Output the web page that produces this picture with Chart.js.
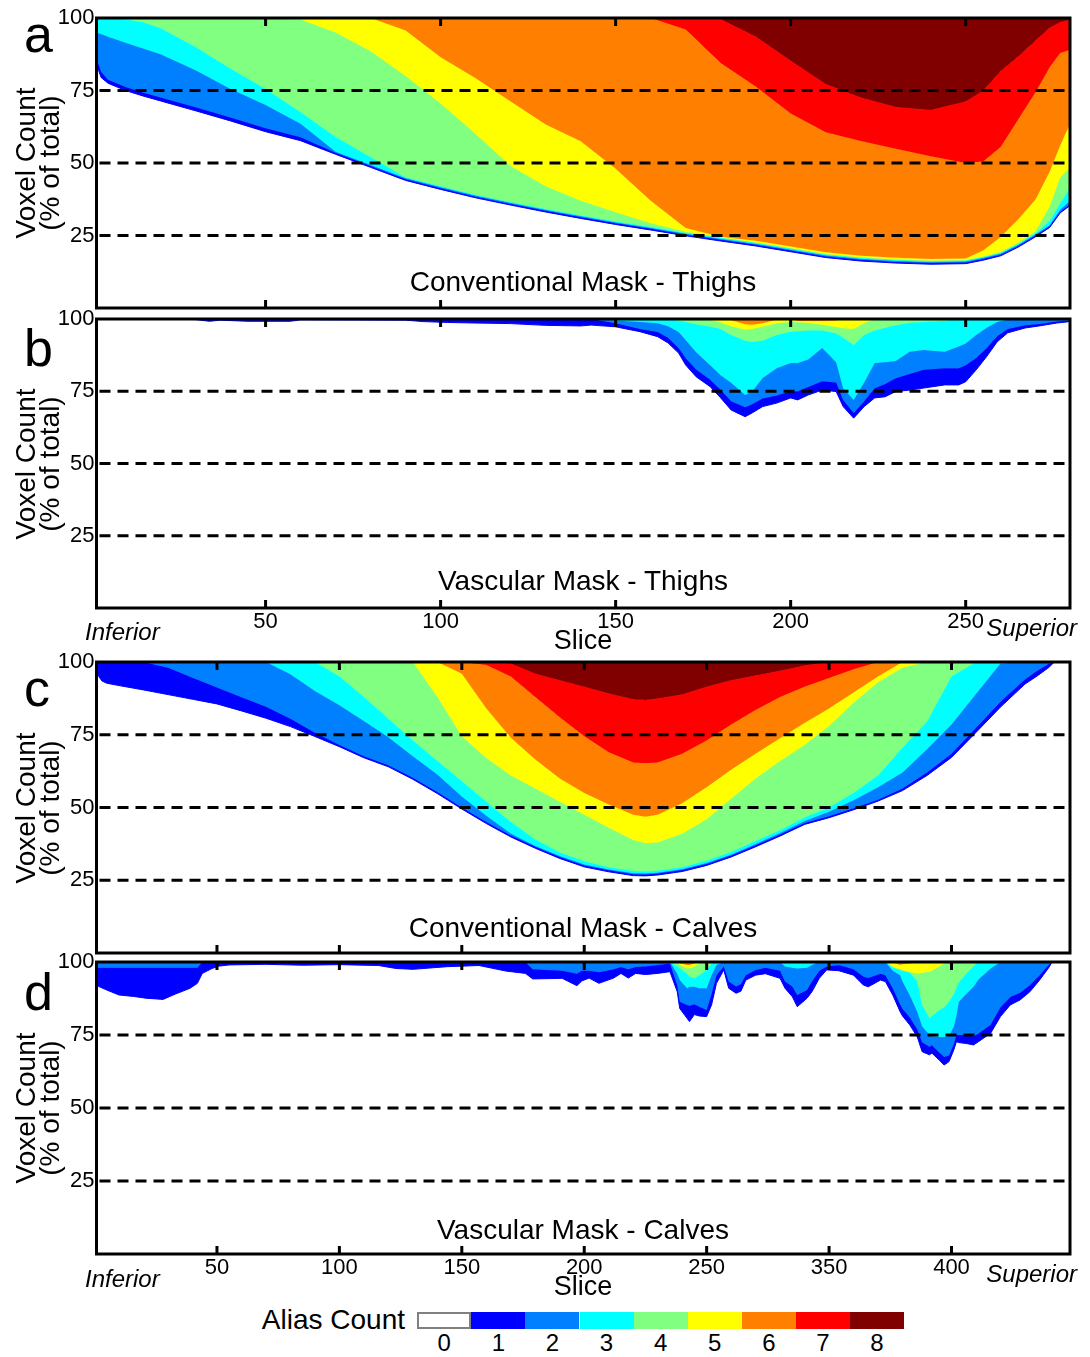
<!DOCTYPE html>
<html><head><meta charset="utf-8">
<script src="https://cdn.jsdelivr.net/npm/chart.js@4.4.1/dist/chart.umd.min.js"></script>
<style>
html,body{margin:0;padding:0;background:#fff;}
body{width:1090px;height:1357px;position:relative;overflow:hidden;font-family:"Liberation Sans",Arial,sans-serif;color:#000;}
canvas{position:absolute;left:0;}
.t{position:absolute;white-space:nowrap;line-height:1;}
.lt{font-size:52px;}
.ttl{font-size:28px;width:974px;left:96px;text-align:center;}
.yt{position:absolute;left:-62px;width:200px;height:48px;font-size:28px;line-height:24px;text-align:center;transform:rotate(-90deg);white-space:nowrap;}
.it{font-style:italic;font-size:24px;}
.sl{font-size:27px;width:200px;left:483px;text-align:center;}
</style></head><body>
<canvas id="ca" width="1090" height="340" style="top:0px"></canvas>
<canvas id="cb" width="1090" height="340" style="top:301px"></canvas>
<canvas id="cc" width="1090" height="340" style="top:644px"></canvas>
<canvas id="cd" width="1090" height="340" style="top:944px"></canvas>

<div class="t lt" style="left:24px;top:8px">a</div>
<div class="t lt" style="left:24px;top:322px">b</div>
<div class="t lt" style="left:24px;top:662px">c</div>
<div class="t lt" style="left:24px;top:966px">d</div>

<div class="yt" style="top:139px">Voxel Count<br>(% of total)</div>
<div class="yt" style="top:440px">Voxel Count<br>(% of total)</div>
<div class="yt" style="top:784px">Voxel Count<br>(% of total)</div>
<div class="yt" style="top:1084px">Voxel Count<br>(% of total)</div>

<div class="t ttl" style="top:268px">Conventional Mask - Thighs</div>
<div class="t ttl" style="top:567px">Vascular Mask - Thighs</div>
<div class="t ttl" style="top:914px">Conventional Mask - Calves</div>
<div class="t ttl" style="top:1216px">Vascular Mask - Calves</div>

<div class="t it" style="left:85px;top:620px">Inferior</div>
<div class="t it" style="right:13px;top:616px">Superior</div>
<div class="t sl" style="top:627px">Slice</div>
<div class="t it" style="left:85px;top:1267px">Inferior</div>
<div class="t it" style="right:13px;top:1262px">Superior</div>
<div class="t sl" style="top:1273px">Slice</div>

<div class="t" style="font-size:28px;right:685px;top:1306px">Alias Count</div>
<div id="cbar"></div>

<script>
// ---------- shared ----------
const COLORS = ['#ffffff','#0000ff','#0080ff','#00ffff','#80ff80','#ffff00','#ff8000','#ff0000','#800000'];
const ALIAS_LEVELS = ['0','1','2','3','4','5','6','7','8'];
const Y_TICKS = [25, 50, 75, 100];
const DASH_LEVELS = [25, 50, 75];
const THIGH_RANGE = [1.7, 279.8];
const CALF_RANGE = [0.8, 398.4];
const THIGH_TICKS = [50, 100, 150, 200, 250];
const THIGH_TICK_LABELS = ['50', '100', '150', '200', '250'];
const CALF_TICKS = [50, 100, 150, 200, 250, 300, 350];
const CALF_TICK_LABELS = ['50', '100', '150', '200', '250', '350', '400'];

// ---------- panel a: conventional mask, thighs (cumulative % at alias count <= k) ----------
const A_X  = [2, 3, 5, 10, 15, 20, 30, 40, 50, 60, 70, 80, 90, 100, 110, 120, 130, 140, 150, 160, 170, 180, 190, 200, 210, 220, 230, 240, 250, 255, 260, 265, 270, 274, 277, 280];
const A_B0 = [83, 79.5, 77.5, 75, 73.1, 71.4, 68, 64.5, 60.8, 57.7, 53, 48.5, 44, 40.9, 38, 35.5, 33.1, 30.9, 28.8, 26.9, 24.9, 23.1, 21.4, 19.4, 17.4, 16.2, 15.5, 15.1, 15.3, 16.5, 18, 21, 24.6, 27.8, 32.8, 35.5];
const A_B1 = [85, 81.5, 78.7, 76.2, 74.3, 72.6, 69.2, 65.7, 62, 58.9, 53.5, 49, 44.4, 41.3, 38.4, 35.9, 33.5, 31.3, 29.2, 27.3, 25.3, 23.5, 21.8, 19.8, 17.8, 16.6, 15.9, 15.5, 15.7, 16.9, 18.4, 21.4, 25, 28.2, 33.2, 36];
const A_B2 = [94.8, 94.5, 93.5, 91.5, 89.5, 87.5, 82, 75.5, 70, 63.5, 53.9, 49.3, 44.7, 41.6, 38.7, 36.2, 33.8, 31.6, 29.5, 27.6, 25.6, 23.8, 22.1, 20.1, 18.1, 16.9, 16.2, 15.8, 16, 17.2, 18.7, 21.7, 25.4, 28.5, 34, 37];
const A_B3 = [100, 100, 100, 99.5, 98.5, 96.5, 90, 82.5, 75.5, 67.5, 59, 52, 45, 42, 39, 36.5, 34.1, 31.9, 29.8, 27.9, 25.9, 24.1, 22.4, 20.4, 18.4, 17.2, 16.5, 16.1, 16.3, 17.5, 19, 22, 25.8, 30, 36, 41.7];
const A_B4 = [100, 100, 100, 100, 100, 100, 100, 100, 100, 99.5, 95, 88.5, 80, 70.5, 60, 49, 42, 37, 33, 29.2, 26.3, 24.3, 22.6, 20.6, 18.6, 17.4, 16.7, 16.3, 16.5, 17.7, 19.3, 22.5, 26.5, 35, 45, 48.6];
const A_B5 = [100, 100, 100, 100, 100, 100, 100, 100, 100, 100, 100, 100, 95.7, 86.5, 79.2, 71.2, 63.3, 57.5, 48, 37, 27.6, 24.6, 23.2, 21.2, 19.2, 18, 17.3, 16.9, 17.1, 19.8, 24.5, 30.5, 37.5, 47, 56, 64];
const A_B6 = [100, 100, 100, 100, 100, 100, 100, 100, 100, 100, 100, 100, 100, 100, 100, 100, 100, 100, 100, 100, 96, 84.5, 76.4, 67.1, 60.6, 57.6, 54.9, 52.3, 50, 50.5, 55.5, 65, 74.5, 83, 87.9, 89];
const A_B7 = [100, 100, 100, 100, 100, 100, 100, 100, 100, 100, 100, 100, 100, 100, 100, 100, 100, 100, 100, 100, 100, 99.6, 93.6, 85.3, 77.2, 72.6, 69.3, 68.3, 71.2, 74.9, 81.7, 86.7, 92.2, 96.6, 98.5, 99.5];

// ---------- panel b: vascular mask, thighs ----------
const B_X  = [2, 30, 34, 37, 45, 57, 60, 90, 95, 102, 110, 120, 130, 140, 143, 150, 157, 162, 165, 168, 170, 173, 177, 180, 183, 187, 189, 192, 196, 200, 202, 205, 209, 213, 215, 218, 221, 224, 227, 230, 234, 238, 244, 248, 250, 253, 256, 259, 262, 267, 271, 276, 279, 280];
const B_B0 = [100, 99.8, 99.2, 99.6, 99.2, 99.2, 99.7, 99.6, 99.1, 98.8, 98.6, 98.4, 97.8, 97.6, 97.9, 97.3, 95.6, 93.9, 91.7, 88.2, 84.1, 80, 76.6, 72.7, 68.5, 66.2, 67.5, 69.7, 70.9, 72.7, 72, 73.7, 75.4, 74.9, 69.7, 65.7, 69.7, 72.7, 73.1, 74.9, 75.4, 76.1, 77.2, 77.2, 78.3, 82.4, 87, 92.1, 95.2, 96.9, 97.6, 98.6, 99, 99.2];
const B_B1 = [100, 100, 100, 100, 100, 100, 100, 100, 100, 100, 100, 100, 100, 100, 100, 98.5, 96.5, 95.5, 93.5, 90, 86.5, 82.5, 79, 75.5, 71.5, 69.5, 70.5, 72.5, 73.5, 75, 75, 76.5, 78.5, 78, 72, 67.5, 71.5, 76, 77.5, 79.5, 81, 82.4, 83, 83, 84, 86.5, 90, 94, 96.5, 97.8, 98.3, 99.1, 99.4, 99.5];
const B_B2 = [100, 100, 100, 100, 100, 100, 100, 100, 100, 100, 100, 100, 100, 100, 100, 99.5, 99, 98.5, 97.5, 95.5, 92.7, 88.5, 84, 80.5, 77.9, 73.7, 74.9, 79.6, 83, 84.8, 84.8, 86, 90, 85, 76, 72, 78, 84.8, 85, 85.5, 88.7, 89.3, 88.7, 90.5, 91.5, 94.5, 97, 99, 99.7, 100, 100, 100, 100, 100];
const B_B3 = [100, 100, 100, 100, 100, 100, 100, 100, 100, 100, 100, 100, 100, 100, 100, 100, 100, 100, 100, 99.5, 99, 98.2, 97.3, 96.5, 94.5, 92.5, 92, 92.5, 94.5, 95.6, 95.8, 96, 96, 95, 93.5, 91, 94.5, 96, 97, 97.8, 98.7, 99, 99.4, 100, 100, 100, 100, 100, 100, 100, 100, 100, 100, 100];
const B_B4 = [100, 100, 100, 100, 100, 100, 100, 100, 100, 100, 100, 100, 100, 100, 100, 100, 100, 100, 100, 100, 100, 100, 99.7, 98.8, 97.5, 96.3, 96.5, 97.3, 98.5, 99, 98.9, 98.6, 98, 97.2, 96.8, 96.5, 98.5, 100, 100, 100, 100, 100, 100, 100, 100, 100, 100, 100, 100, 100, 100, 100, 100, 100];
const B_B5 = [100, 100, 100, 100, 100, 100, 100, 100, 100, 100, 100, 100, 100, 100, 100, 100, 100, 100, 100, 100, 100, 100, 100, 100, 99.6, 98.2, 98, 98.5, 99.7, 100, 99.3, 99.3, 99.3, 99.5, 100, 100, 100, 100, 100, 100, 100, 100, 100, 100, 100, 100, 100, 100, 100, 100, 100, 100, 100, 100];

// ---------- panel c: conventional mask, calves ----------
const C_X  = [1, 3, 5, 10, 20, 30, 40, 50, 60, 70, 80, 90, 100, 110, 120, 130, 140, 150, 160, 170, 180, 190, 200, 210, 220, 225, 230, 240, 250, 260, 270, 280, 290, 300, 310, 320, 330, 340, 350, 360, 370, 380, 385, 390, 392, 398];
const C_B0 = [96, 93.5, 92.7, 91.9, 90.4, 88.8, 87.2, 85.6, 83.2, 80.7, 77.8, 74.4, 70.9, 67.1, 64, 59.7, 54.8, 49.5, 44.5, 39.9, 36, 32.5, 29.6, 27.9, 26.6, 26.5, 26.8, 28, 30.1, 33, 36.5, 40.2, 44.2, 46.5, 49.2, 52.2, 55.8, 61, 67.2, 75.8, 84.5, 92.4, 95.2, 98.3, 100, 100];
const C_B1 = [100, 100, 100, 100, 100, 98, 94.6, 91.2, 87.9, 84.6, 80.5, 75.7, 71.5, 67.6, 64.5, 60.2, 55.3, 50, 45, 40.4, 36.5, 33, 30.1, 28.4, 27.1, 27, 27.3, 28.5, 30.6, 33.5, 37, 40.7, 44.7, 47, 49.7, 52.7, 56.5, 62, 68.5, 77.3, 86.3, 94, 97, 99.5, 100, 100];
const C_B2 = [100, 100, 100, 100, 100, 100, 100, 100, 100, 100, 95.8, 90, 85.1, 79.7, 74.1, 67.6, 61.3, 53.8, 47.2, 41.1, 36.8, 33.3, 30.4, 28.7, 27.4, 27.3, 27.6, 28.8, 30.9, 33.8, 37.5, 41.2, 45.4, 48.5, 52.5, 57, 62, 70, 78.5, 89, 99.5, 100, 100, 100, 100, 100];
const C_B3 = [100, 100, 100, 100, 100, 100, 100, 100, 100, 100, 100, 100, 95, 88, 80.5, 73, 66, 59, 52, 45, 39, 34.5, 31.5, 29.5, 28.2, 28, 28.3, 29.5, 31.7, 34.7, 38.5, 42.2, 46.6, 50, 55, 61, 70.5, 79.5, 95, 100, 100, 100, 100, 100, 100, 100];
const C_B4 = [100, 100, 100, 100, 100, 100, 100, 100, 100, 100, 100, 100, 100, 100, 100, 100, 88, 74.5, 67, 61, 56.5, 52, 47.5, 43, 38.8, 37.7, 38, 41, 46, 53, 60, 66, 71.5, 78, 86, 93, 98, 100, 100, 100, 100, 100, 100, 100, 100, 100];
const C_B5 = [100, 100, 100, 100, 100, 100, 100, 100, 100, 100, 100, 100, 100, 100, 100, 100, 100, 96, 84, 74, 66.5, 60, 55, 51, 47.5, 46.8, 47.5, 51.5, 57, 63, 68.5, 73.8, 79, 84, 89.5, 95, 100, 100, 100, 100, 100, 100, 100, 100, 100, 100];
const C_B6 = [100, 100, 100, 100, 100, 100, 100, 100, 100, 100, 100, 100, 100, 100, 100, 100, 100, 100, 99, 95, 88, 81, 74.5, 69, 65.5, 65.2, 65.5, 68.5, 73, 78.5, 83.5, 88, 91.5, 94.5, 97.5, 100, 100, 100, 100, 100, 100, 100, 100, 100, 100, 100];
const C_B7 = [100, 100, 100, 100, 100, 100, 100, 100, 100, 100, 100, 100, 100, 100, 100, 100, 100, 100, 100, 99.5, 96, 93.7, 91.5, 89.2, 87.2, 86.9, 87.5, 88.8, 91.5, 93.7, 95.4, 97, 98.8, 100, 100, 100, 100, 100, 100, 100, 100, 100, 100, 100, 100, 100];

// ---------- panel d: vascular mask, calves ----------
const D_X  = [1, 2, 5, 10, 16, 21, 28, 33, 39, 42, 44, 48, 51, 55, 70, 85, 100, 110, 116, 123, 130, 144, 157, 168, 176, 179, 191, 197, 199, 202, 206, 212, 215, 218, 221, 225, 230, 235, 238, 239, 242, 243, 245, 247, 250, 252, 254, 257, 259, 262, 264, 266, 270, 274, 280, 282, 285, 287, 291, 293, 296, 299, 304, 310, 314, 316, 321, 323, 326, 329, 330, 333, 336, 338, 341, 342, 345, 347, 349, 351, 352, 353, 356, 359, 361, 366, 370, 374, 378, 382, 386, 390, 391, 398];
const D_B0 = [92, 91.5, 90.4, 88.7, 88.2, 87.6, 87.2, 89, 91, 92.7, 96.1, 97.8, 98.6, 99, 99.2, 98.9, 99.1, 98.9, 98.8, 97.8, 97.5, 98.4, 98.8, 96.9, 96.1, 94.2, 94.4, 91.9, 93.5, 94.5, 92.7, 94.5, 96.1, 94.5, 96.1, 95.7, 96.1, 96.7, 89.8, 84.1, 80.7, 79.6, 82, 81.5, 81.3, 85.3, 92.7, 97.3, 91, 89.3, 90, 93.8, 95.5, 96, 94.4, 91, 88.1, 84.7, 87.6, 89.8, 94.4, 97.3, 97, 95.5, 92.1, 91.5, 93.8, 93.3, 88.7, 83, 81.5, 78.4, 74.4, 69.3, 68.2, 68.8, 66.4, 64.7, 65.9, 70, 72.7, 72.4, 72.1, 71.6, 72.7, 75.6, 81.3, 85.3, 87, 89.8, 93.8, 98.4, 100, 100];
const D_B1 = [98, 98, 98, 98, 98, 98, 98, 98, 98, 98, 100, 100, 100, 100, 100, 100, 100, 100, 100, 100, 100, 100, 100, 100, 100, 97.5, 97, 96, 97, 97, 96.5, 97.5, 98.3, 97.5, 98.3, 98.5, 99, 99.5, 92, 86.4, 85.3, 85, 85.5, 84.7, 83.6, 89, 95.5, 98.5, 93.3, 91.6, 92.5, 95.5, 97.3, 98, 97, 93.3, 91.6, 88.7, 90.4, 93.3, 97, 98.5, 99, 97.5, 95, 94.5, 96, 95.5, 91, 85.5, 84, 81, 77, 72.5, 71, 71.5, 69, 67.5, 68, 72, 75, 75, 75, 74.5, 75.5, 78.5, 84.5, 88, 89.5, 92, 95.5, 99.3, 100, 100];
const D_B2 = [100, 100, 100, 100, 100, 100, 100, 100, 100, 100, 100, 100, 100, 100, 100, 100, 100, 100, 100, 100, 100, 100, 100, 100, 100, 100, 100, 100, 100, 100, 100, 100, 100, 100, 100, 100, 100, 100, 96, 93.8, 91, 91.5, 91.5, 91, 91, 95.5, 99, 100, 100, 100, 100, 100, 100, 100, 100, 98.5, 98, 97.8, 98, 99, 100, 100, 100, 100, 100, 100, 100, 100, 97, 95.5, 93.3, 88.5, 83, 78, 75, 74.7, 74.3, 74.3, 74.7, 78, 81.5, 86.4, 89, 91.5, 94, 97.8, 100, 100, 100, 100, 100, 100, 100, 100];
const D_B3 = [100, 100, 100, 100, 100, 100, 100, 100, 100, 100, 100, 100, 100, 100, 100, 100, 100, 100, 100, 100, 100, 100, 100, 100, 100, 100, 100, 100, 100, 100, 100, 100, 100, 100, 100, 100, 100, 100, 98.5, 97.8, 96, 95, 94.4, 95.5, 97.3, 99.5, 100, 100, 100, 100, 100, 100, 100, 100, 100, 100, 100, 100, 100, 100, 100, 100, 100, 100, 100, 100, 100, 100, 98, 97.3, 97, 96.3, 93.3, 85.3, 80.7, 81.5, 83.5, 84.5, 86.4, 89, 91, 93, 96, 98.5, 100, 100, 100, 100, 100, 100, 100, 100, 100, 100];
const D_B4 = [100, 100, 100, 100, 100, 100, 100, 100, 100, 100, 100, 100, 100, 100, 100, 100, 100, 100, 100, 100, 100, 100, 100, 100, 100, 100, 100, 100, 100, 100, 100, 100, 100, 100, 100, 100, 100, 100, 100, 99, 97.8, 97.8, 98.5, 99.5, 100, 100, 100, 100, 100, 100, 100, 100, 100, 100, 100, 100, 100, 100, 100, 100, 100, 100, 100, 100, 100, 100, 100, 100, 98.5, 97.3, 97, 96.5, 96.1, 96.3, 96.7, 97, 98.5, 99.5, 100, 100, 100, 100, 100, 100, 100, 100, 100, 100, 100, 100, 100, 100, 100, 100];
const D_B5 = [100, 100, 100, 100, 100, 100, 100, 100, 100, 100, 100, 100, 100, 100, 100, 100, 100, 100, 100, 100, 100, 100, 100, 100, 100, 100, 100, 100, 100, 100, 100, 100, 100, 100, 100, 100, 100, 100, 100, 99.6, 99, 99, 99.5, 100, 100, 100, 100, 100, 100, 100, 100, 100, 100, 100, 100, 100, 100, 100, 100, 100, 100, 100, 100, 100, 100, 100, 100, 100, 100, 99, 99.2, 99.5, 100, 100, 100, 100, 100, 100, 100, 100, 100, 100, 100, 100, 100, 100, 100, 100, 100, 100, 100, 100, 100, 100];

// ---------- drawing ----------
Chart.defaults.font.family = "'Liberation Sans', Arial, sans-serif";
Chart.defaults.color = '#000';

const framePlugin = {
  id: 'frame',
  afterDatasetsDraw(chart, args, opts) {
    const ctx = chart.ctx, a = chart.chartArea, xs = chart.scales.x, ys = chart.scales.y;
    ctx.save();
    ctx.strokeStyle = '#000';
    ctx.lineWidth = 3;
    ctx.setLineDash([11, 7]);
    DASH_LEVELS.forEach(v => {
      const py = ys.getPixelForValue(v);
      ctx.beginPath(); ctx.moveTo(a.left + 3, py); ctx.lineTo(a.right, py); ctx.stroke();
    });
    ctx.setLineDash([]);
    ctx.lineWidth = 3;
    opts.ticks.forEach(v => {
      const px = xs.getPixelForValue(v);
      ctx.beginPath(); ctx.moveTo(px, a.top); ctx.lineTo(px, a.top + 8); ctx.stroke();
      ctx.beginPath(); ctx.moveTo(px, a.bottom - 8); ctx.lineTo(px, a.bottom); ctx.stroke();
    });
    ctx.strokeRect(a.left, a.top, a.right - a.left, a.bottom - a.top);
    ctx.restore();
  }
};

function makePanel(id, xs, bounds, range, ticks, tickLabels, showLabels, padBottom) {
  const datasets = bounds.map((b, k) => ({
    data: xs.map((x, i) => ({ x: x, y: b[i] })),
    fill: k < bounds.length - 1 ? '+1' : 'end',
    backgroundColor: COLORS[k + 1],
    borderColor: COLORS[k + 1],
    borderWidth: 1,
    pointRadius: 0,
    tension: 0
  }));
  new Chart(document.getElementById(id), {
    type: 'line',
    data: { datasets },
    options: {
      animation: false, responsive: false, devicePixelRatio: 1,
      events: [],
      layout: { padding: { left: 0, right: 20, top: 18, bottom: padBottom } },
      plugins: { legend: { display: false }, tooltip: { enabled: false }, frame: { ticks } },
      scales: {
        x: {
          type: 'linear', min: range[0], max: range[1],
          grid: { display: false, drawTicks: false }, border: { display: false },
          afterBuildTicks: s => { s.ticks = ticks.map(v => ({ value: v })); },
          ticks: { display: showLabels, autoSkip: false, maxRotation: 0, padding: 1,
                   font: { size: 22 }, color: '#000',
                   callback: (v, i) => tickLabels[i] },
          afterFit: s => { s.height = showLabels ? 30 : 0; }
        },
        y: {
          min: 0, max: 100,
          grid: { display: false, drawTicks: false }, border: { display: false },
          afterBuildTicks: s => { s.ticks = Y_TICKS.map(v => ({ value: v })); },
          ticks: { padding: 2, font: { size: 22 }, color: '#000', callback: v => String(v) },
          afterFit: s => { s.width = 96.5; }
        }
      }
    },
    plugins: [framePlugin]
  });
}

makePanel('ca', A_X, [A_B0, A_B1, A_B2, A_B3, A_B4, A_B5, A_B6, A_B7], THIGH_RANGE, THIGH_TICKS, THIGH_TICK_LABELS, false, 32);
makePanel('cb', B_X, [B_B0, B_B1, B_B2, B_B3, B_B4, B_B5], THIGH_RANGE, THIGH_TICKS, THIGH_TICK_LABELS, true, 3);
makePanel('cc', C_X, [C_B0, C_B1, C_B2, C_B3, C_B4, C_B5, C_B6, C_B7], CALF_RANGE, CALF_TICKS, CALF_TICK_LABELS, false, 31);
makePanel('cd', D_X, [D_B0, D_B1, D_B2, D_B3, D_B4, D_B5], CALF_RANGE, CALF_TICKS, CALF_TICK_LABELS, true, 0);

// colour bar legend
const cbar = document.getElementById('cbar');
ALIAS_LEVELS.forEach((lab, i) => {
  const left = 417.2 + 54.1 * i;
  const box = document.createElement('div');
  box.style.cssText = `position:absolute;left:${left}px;top:1312px;width:54.1px;height:17px;background:${COLORS[i]};box-sizing:border-box;` +
    (i === 0 ? 'border:2px solid #808080;' : '');
  cbar.appendChild(box);
  const t = document.createElement('div');
  t.className = 't';
  t.style.cssText = `font-size:24px;left:${left}px;width:54.1px;text-align:center;top:1331px;`;
  t.textContent = lab;
  cbar.appendChild(t);
});
</script>
</body></html>
